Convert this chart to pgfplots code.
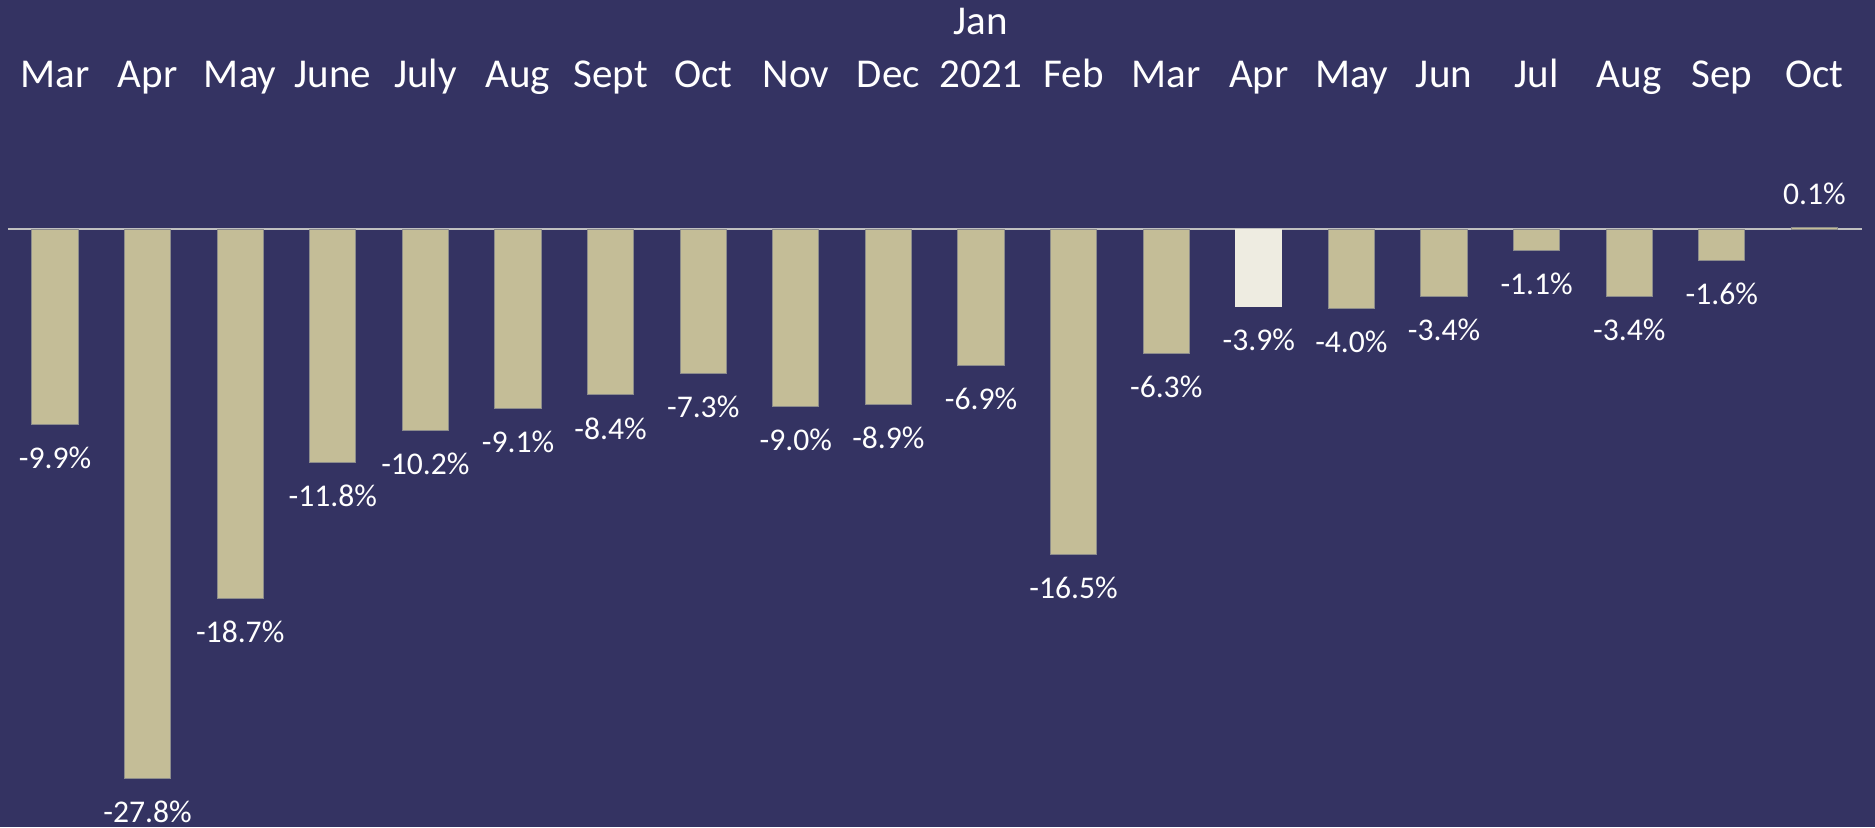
\documentclass[border=0pt]{standalone}
\usepackage{fontspec}
\setmainfont{Carlito}
\usepackage{pgfplots}
\pgfplotsset{compat=1.18}

\definecolor{navy}{HTML}{343362}
\definecolor{tan}{HTML}{C4BD97}
\definecolor{tanlight}{HTML}{EEECE1}
\definecolor{zeroline}{HTML}{C0C0C0}
\definecolor{edge}{HTML}{8C8C8C}

\begin{document}
\begin{tikzpicture}
\begin{axis}[
    scale only axis,
    width=468.75pt, height=206.75pt,
    xmin=-0.594, xmax=19.654,
    ymin=-30.28, ymax=11.6,
    axis line style={draw=none},
    xtick=\empty, ytick=\empty,
    axis background/.style={fill=navy},
    clip=false,
    /pgf/number format/assume math mode=true,
    nodes near coords={\pgfmathprintnumber[fixed,fixed zerofill,precision=1]{\pgfplotspointmeta}\%},
    every node near coord/.append style={
        font=\fontsize{7.9}{9}\selectfont, text=white,
        inner xsep=0pt, inner ysep=5.5pt},
]
% zero line
\draw[zeroline, line width=0.55pt] (axis cs:-0.51,0) -- (axis cs:19.51,0);

% monthly change
\addplot[ybar, bar width=0.5, bar shift=0pt, fill=tan, draw=edge, line width=0.25pt]
coordinates {
    (0,-9.9) (1,-27.8) (2,-18.7) (3,-11.8) (4,-10.2)
    (5,-9.1) (6,-8.4) (7,-7.3) (8,-9.0) (9,-8.9)
    (10,-6.9) (11,-16.5) (12,-6.3)
    (14,-4.0) (15,-3.4) (16,-1.1) (17,-3.4) (18,-1.6) (19,0.1)
};
% highlighted month
\addplot[ybar, bar width=0.5, bar shift=0pt, fill=tanlight, draw=tanlight, line width=0.25pt]
coordinates {(13,-3.9)};

% month labels
\foreach \lab [count=\i from 0] in {Mar,Apr,May,June,July,Aug,Sept,Oct,Nov,Dec,2021,Feb,Mar,Apr,May,Jun,Jul,Aug,Sep,Oct} {
    \edef\tmp{\noexpand\node[anchor=base, text=white, inner sep=0pt,
        font=\noexpand\fontsize{10.25}{12}\noexpand\selectfont]
        at (axis cs:\i,7.19) {\lab};}
    \tmp
}
\node[anchor=base, text=white, inner sep=0pt, font=\fontsize{10.25}{12}\selectfont]
    at (axis cs:10,9.87) {Jan};
\end{axis}
\pgfresetboundingbox
\useasboundingbox (current axis.south west) rectangle (current axis.north east);
\end{tikzpicture}
\end{document}
